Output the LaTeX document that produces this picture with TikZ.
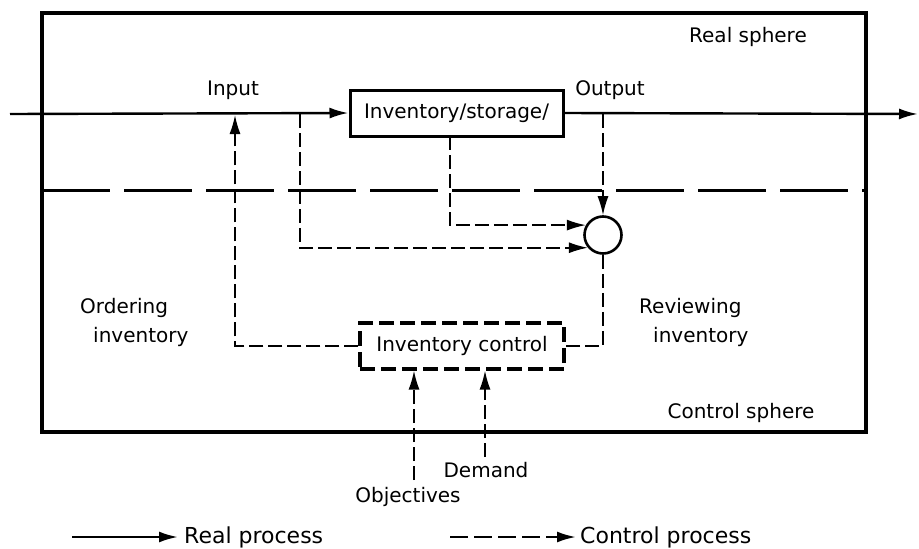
\documentclass[tikz,border=0pt]{standalone}
\usepackage{fontspec}
\setmainfont{DejaVu Sans}
\usetikzlibrary{arrows.meta}
\begin{document}
\begin{tikzpicture}[x=1pt,y=-1pt,
  font=\fontsize{20}{29}\selectfont,
  frame/.style={draw, line width=3.2pt, inner sep=0pt},
  realbox/.style={draw, line width=3pt, minimum width=213pt, minimum height=46pt, inner sep=0pt},
  ctrlbox/.style={draw, line width=3.2pt, dash pattern=on 15pt off 6pt, minimum width=204pt, minimum height=46pt, inner sep=0pt},
  realline/.style={line width=2.4pt},
  ctrl/.style={line width=1.6pt, dash pattern=on 14pt off 5pt},
  divider/.style={line width=3pt, dash pattern=on 68pt off 14pt},
  arrowtip/.style={-{Latex[length=19pt,width=11pt]}},
  lbl/.style={inner sep=0pt}
]
\useasboundingbox (0,0) rectangle (919,549);
% frame
\node[frame, minimum width=824pt, minimum height=419pt] (frame) at (454,222.5) {};
\coordinate (dl) at (42,190);
\coordinate (dr) at (866,190);
\draw[divider] (dl) -- (dr);
% real process
\node[realbox] (store) at (456.5,113) {Inventory/storage/};
\coordinate (in) at (10,114);
\coordinate (out) at (918,114);
\draw[realline, arrowtip] (in) -- (store.west);
\draw[realline, arrowtip] (store.east) -- (out);
% comparator
\node[draw, circle, line width=2.6pt, minimum size=37pt, inner sep=0pt] (cmp) at (603,235) {};
% inventory control
\node[ctrlbox] (ic) at (462,346) {Inventory control};
% control lines
\coordinate (inpt) at (235,115);
\coordinate (tapin) at (300,114);
\coordinate (s1) at (450,136);
\coordinate (tapout) at (603,114);
\draw[ctrl, arrowtip] (ic.west) -| (inpt);
\draw[ctrl, arrowtip] (tapin) |- (cmp.220);
\draw[ctrl, arrowtip] (s1) |- (cmp.150);
\draw[ctrl, arrowtip] (tapout) -- (cmp.north);
\draw[ctrl] (cmp.south) |- (ic.east);
\coordinate (obj) at (414,480);
\coordinate (dem) at (485,457);
\draw[ctrl, arrowtip] (obj) -- (obj |- ic.south);
\draw[ctrl, arrowtip] (dem) -- (dem |- ic.south);
% labels
\node[lbl] (lreal) at (748,37) {Real sphere};
\node[lbl] (linput) at (233,90) {Input};
\node[lbl] (loutput) at (610,90) {Output};
\node[lbl, anchor=west, align=left] (lorder) at (80,322) {Ordering\\\hspace*{13pt}inventory};
\node[lbl, anchor=west, align=left] (lreview) at (639,322) {Reviewing\\\hspace*{14pt}inventory};
\node[lbl] (lctrl) at (741,413) {Control sphere};
\node[lbl] (ldem) at (486,470) {Demand};
\node[lbl] (lobj) at (408,497) {Objectives};
% legend
\coordinate (r1) at (72,537);
\coordinate (r2) at (178,537);
\coordinate (c1) at (450,537);
\coordinate (c2) at (576,537);
\draw[realline, arrowtip] (r1) -- (r2);
\draw[ctrl, line width=2.4pt, dash pattern=on 18pt off 6pt, arrowtip] (c1) -- (c2);
\node[lbl, anchor=west, font=\fontsize{22}{26}\selectfont] (lrp) at (184,537) {Real process};
\node[lbl, anchor=west, font=\fontsize{22}{26}\selectfont] (lcp) at (580,537) {Control process};
\end{tikzpicture}
\end{document}
